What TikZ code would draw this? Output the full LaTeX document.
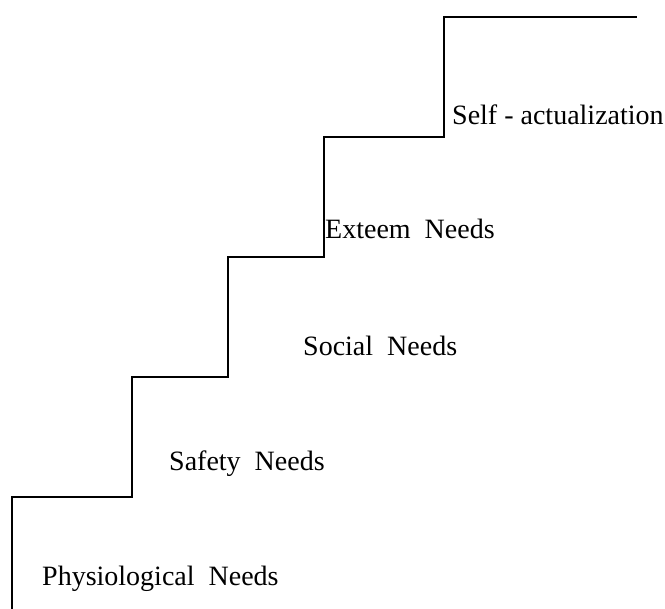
\documentclass[tikz,border=0pt]{standalone}
\usepackage{fontspec}
\setmainfont{Liberation Serif}
\begin{document}
\begin{tikzpicture}[x=1pt,y=-1pt,
  stair/.style={line width=1.7pt,line join=miter},
  level/.style={anchor=base west,inner sep=0pt,font=\fontsize{28}{33}\selectfont}]
\useasboundingbox (0,0) rectangle (665,609);
% the staircase outline
\draw[stair] (12,609) -- (12,497) -- (132,497) -- (132,377) -- (228,377)
  -- (228,257) -- (324,257) -- (324,137) -- (444,137) -- (444,17) -- (637,17);
% labels on the steps
\node[level] (phys)   at (42,586)  {Physiological\ \ Needs};
\node[level] (safety) at (169,471) {Safety\ \ Needs};
\node[level] (social) at (303,356) {Social\ \ Needs};
\node[level] (esteem) at (325,239) {Exteem\ \ Needs};
\node[level] (self)   at (452,125) {Self - actualization};
\end{tikzpicture}
\end{document}
